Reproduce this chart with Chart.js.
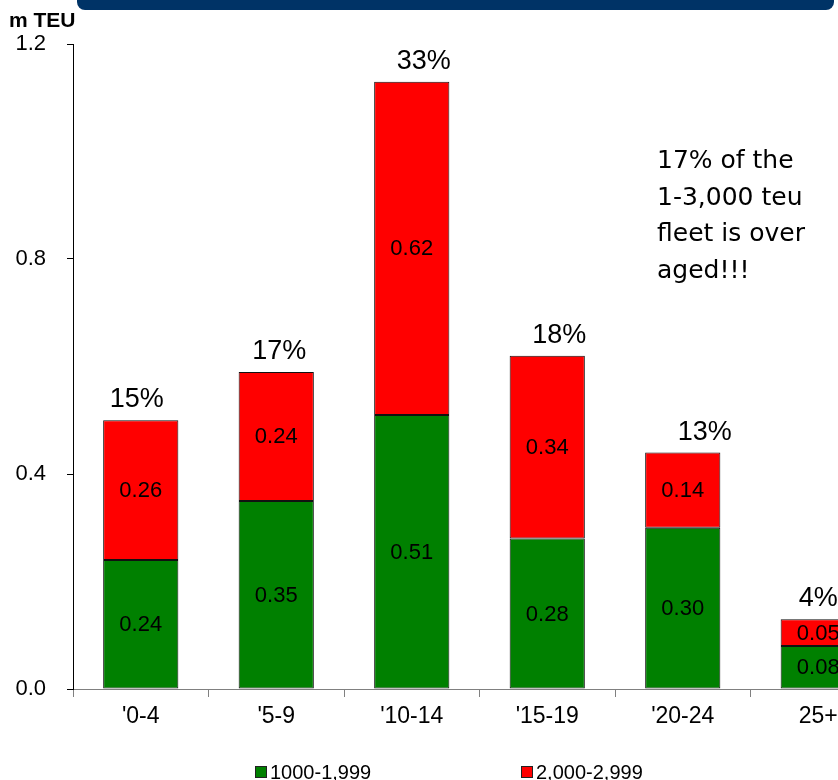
<!DOCTYPE html>
<html>
<head>
<meta charset="utf-8">
<script src="https://cdn.jsdelivr.net/npm/chart.js@4/dist/chart.umd.min.js"></script>
<style>
  html, body { margin: 0; padding: 0; background: #fff; overflow: hidden; }
  body { width: 838px; height: 780px; position: relative; font-family: "Liberation Sans", Arial, sans-serif; }
  #banner { position: absolute; left: 77px; top: -8px; width: 757px; height: 18px; background: #003366; border-radius: 8px; }
  #unit { position: absolute; left: 9px; top: 8px; font: bold 21px "Liberation Sans", Arial, sans-serif; color: #000; }
  #wrap { position: absolute; left: 0; top: 0; width: 890px; height: 780px; }
  #note { position: absolute; left: 657px; top: 142px; font: 25px "DejaVu Sans", Verdana, sans-serif; line-height: 36.5px; color: #000; }
  #legend { position: absolute; left: 0; top: 762px; width: 838px; font: 20px "Liberation Sans", Arial, sans-serif; color: #000; }
  .item { position: absolute; top: 0; white-space: nowrap; line-height: 20px; }
  .box { display: inline-block; width: 10px; height: 10px; border: 1px solid #222; margin-right: 3px; vertical-align: 1px; }
</style>
</head>
<body>
<div id="banner"></div>
<div id="wrap"><canvas id="chart"></canvas></div>
<div id="unit">m TEU</div>
<div id="note">17% of the<br>1-3,000 teu<br>fleet is over<br>aged!!!</div>
<div id="legend"></div>
<script>
// age bands (years)
const categories = ["'0-4", "'5-9", "'10-14", "'15-19", "'20-24", '25+'];
// million TEU by size band
const small = [0.24, 0.35, 0.51, 0.28, 0.30, 0.08];   // 1000-1,999
const large = [0.26, 0.24, 0.62, 0.34, 0.14, 0.05];   // 2,000-2,999
// share of fleet per age band
const shares = ['15%', '17%', '33%', '18%', '13%', '4%'];
const yTicks = [0.0, 0.4, 0.8, 1.2];

// small horizontal nudges of the share labels, as placed in the original
const shareNudge = [-4, 3, 12, 12, 22, 0];

// Labels inside each segment and shares above each bar
const labelPlugin = {
  id: 'labels',
  afterDatasetsDraw(chart) {
    const ctx = chart.ctx;
    ctx.save();
    ctx.fillStyle = '#000';
    ctx.textAlign = 'center';
    ctx.textBaseline = 'middle';
    ctx.font = '22px "Liberation Sans", Arial, sans-serif';
    chart.data.datasets.forEach((ds, i) => {
      chart.getDatasetMeta(i).data.forEach((bar, j) => {
        const mid = (bar.y + bar.base) / 2;
        ctx.fillText(ds.data[j].toFixed(2), bar.x, mid + 1);
      });
    });
    const top = chart.getDatasetMeta(1).data;
    ctx.font = '27px "Liberation Sans", Arial, sans-serif';
    ctx.textBaseline = 'alphabetic';
    top.forEach((bar, j) => {
      ctx.fillText(shares[j], bar.x + shareNudge[j], bar.y - 13);
    });
    ctx.restore();
  },
};

const chart = new Chart(document.getElementById('chart'), {
  type: 'bar',
  data: {
    labels: categories,
    datasets: [
      {
        label: '1000-1,999',
        data: small,
        backgroundColor: '#008000',
        borderColor: '#111',
        borderWidth: 1,
        borderSkipped: false,
      },
      {
        label: '2,000-2,999',
        data: large,
        backgroundColor: '#FF0000',
        borderColor: '#111',
        borderWidth: 1,
        borderSkipped: false,
      },
    ],
  },
  options: {
    responsive: true,
    maintainAspectRatio: false,
    animation: false,
    datasets: {
      bar: { barPercentage: 0.555, categoryPercentage: 1 },
    },
    layout: {
      padding: { left: 0, right: 4, top: 44, bottom: 40 },
    },
    scales: {
      x: {
        stacked: true,
        afterFit: (scale) => { scale.height = 51; },
        border: { color: '#808080', width: 1 },
        grid: { drawOnChartArea: false, tickLength: 8, color: '#808080', offset: true },
        ticks: {
          color: '#000',
          padding: 6,
          font: { family: '"Liberation Sans", Arial, sans-serif', size: 23 },
        },
      },
      y: {
        stacked: true,
        min: 0,
        max: 1.2,
        afterFit: (scale) => { scale.width = 73; },
        afterBuildTicks: (scale) => { scale.ticks = yTicks.map((v) => ({ value: v })); },
        border: { color: '#000', width: 1 },
        grid: { drawOnChartArea: false, tickLength: 6, color: '#000' },
        ticks: {
          color: '#000',
          padding: 21,
          font: { family: '"Liberation Sans", Arial, sans-serif', size: 22 },
          callback: (v) => Number(v).toFixed(1),
        },
      },
    },
    plugins: {
      legend: { display: false },
      tooltip: { enabled: false },
    },
  },
  plugins: [labelPlugin],
});

// Legend built from the datasets
const legendX = [255, 521];
const legend = document.getElementById('legend');
chart.data.datasets.forEach((ds, i) => {
  const item = document.createElement('span');
  item.className = 'item';
  item.style.left = legendX[i] + 'px';
  item.innerHTML = '<span class="box" style="background:' + ds.backgroundColor + '"></span>' + ds.label;
  legend.appendChild(item);
});
</script>
</body>
</html>
